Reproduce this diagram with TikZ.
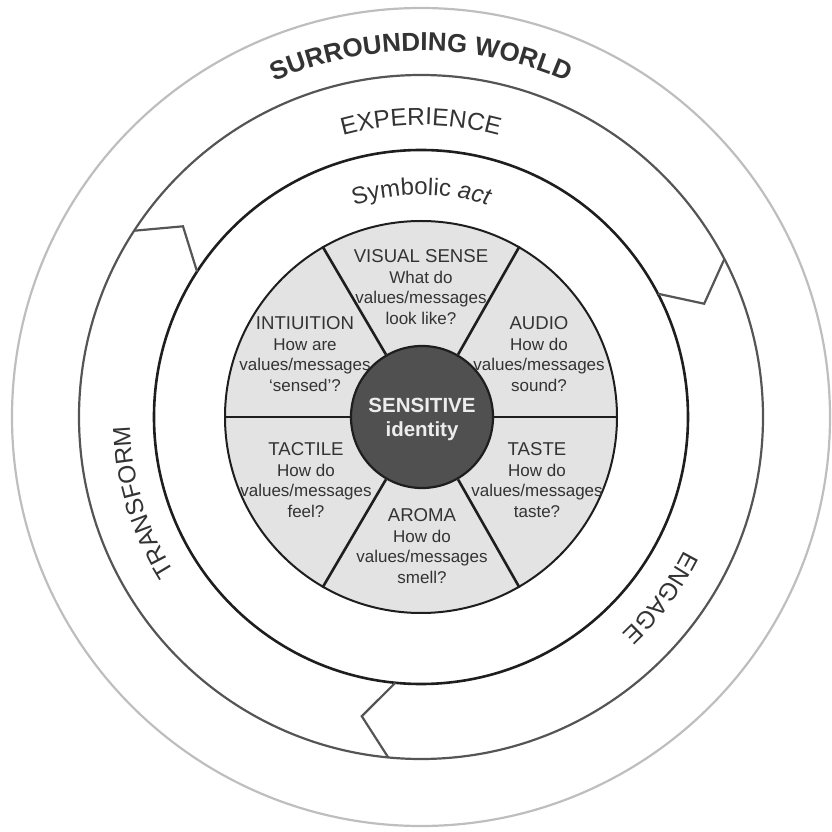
\documentclass[tikz,border=0pt]{standalone}
\usepackage{fontspec}
\setmainfont{Liberation Sans}
\usepackage{tikz}
\usetikzlibrary{decorations.text}
\definecolor{ink}{HTML}{333333}
\definecolor{worldgray}{HTML}{BEBEBE}
\definecolor{ringgray}{HTML}{555555}
\definecolor{rim}{HTML}{1E1E1E}
\definecolor{sensefill}{HTML}{E3E3E3}
\definecolor{corefill}{HTML}{505050}
\newcommand{\sensehead}[1]{{\fontsize{18.6}{20.7}\selectfont #1}}

\begin{document}
\begin{tikzpicture}[x=1pt, y=1pt,
  sense/.style={align=center, text=ink, font=\fontsize{17}{20.7}\selectfont, inner sep=0pt},
  ringlabel/.style={decorate, decoration={text along path, text align=center, text color=ink}},
  chevron/.style={draw=ringgray, line width=2.2pt, line join=miter},
  divider/.style={draw=rim, line width=2.6pt}]
  \useasboundingbox (-421,-415) rectangle (411,417);
  \draw[worldgray, line width=2.2pt] (0,0) circle[radius=409];
  \draw[ringgray, line width=2.2pt] (0,0) circle[radius=342];
  \draw[rim, line width=2.6pt] (0,0) circle[radius=267];
  \foreach \a in {147,27.5,264.5}
    \draw[chevron] (\a:342) -- ({\a-5.7}:305) -- (\a:267);
  \node[circle, fill=sensefill, draw=rim, line width=2pt, minimum size=392pt, inner sep=0pt] (senses) at (0,0) {};
  \node[circle, fill=corefill, draw=rim, line width=2.2pt, minimum size=142pt, inner sep=0pt,
        align=center, text=white!93!black, font=\fontsize{20.5}{24}\selectfont\bfseries] (core) at (1,0) {\rule{0pt}{19pt}SENSITIVE\\identity};
  \foreach \a in {0,60,...,300}
    \draw[divider] (core.\a) -- (senses.\a);
  \node[sense] (visual) at (0,130) {\sensehead{VISUAL SENSE}\\What do\\values/messages\\look like?};
  \node[sense] (audio) at (118,63) {\sensehead{AUDIO}\\How do\\values/messages\\sound?};
  \node[sense] (intuition) at (-116,63) {\sensehead{INTIUITION}\\How are\\values/messages\\`sensed'?};
  \node[sense] (tactile) at (-115,-63) {\sensehead{TACTILE}\\How do\\values/messages\\feel?};
  \node[sense] (taste) at (116,-63) {\sensehead{TASTE}\\How do\\values/messages\\taste?};
  \node[sense] (aroma) at (1,-129) {\sensehead{AROMA}\\How do\\values/messages\\smell?};
  \path[ringlabel, decoration={text={|\fontsize{26}{30}\selectfont\bfseries|SURROUNDING WORLD}}]
    (160:366) arc[start angle=160, end angle=20, radius=366];
  \path[ringlabel, decoration={text={|\fontsize{24.5}{28}\selectfont|EXPERIENCE}}]
    (150:292) arc[start angle=150, end angle=30, radius=292];
  \path[ringlabel, decoration={text={|\fontsize{24}{28}\selectfont|Symbolic |\fontsize{24}{28}\selectfont\itshape|act}}]
    (150:222) arc[start angle=150, end angle=30, radius=222];
  \path[ringlabel, decoration={text={|\fontsize{24.5}{28}\selectfont|TRANSFORM}}]
    (257:291) arc[start angle=257, end angle=137, radius=291];
  \path[ringlabel, decoration={text={|\fontsize{24.5}{28}\selectfont|ENGAGE}}]
    (23:295) arc[start angle=23, end angle=-97, radius=295];
\end{tikzpicture}
\end{document}
